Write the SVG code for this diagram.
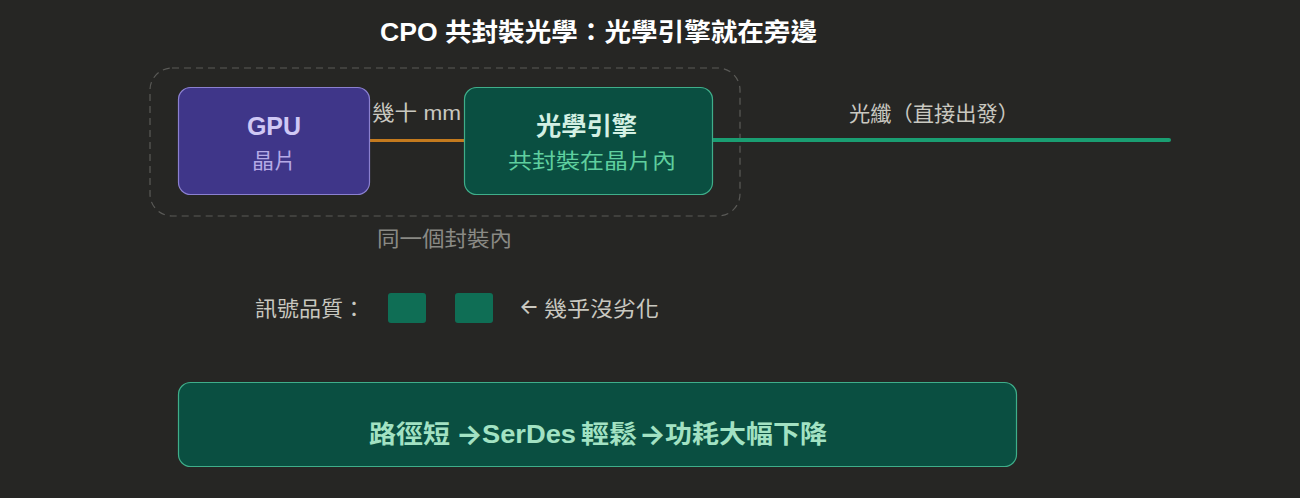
<svg xmlns="http://www.w3.org/2000/svg" width="1300" height="498" viewBox="0 0 1300 498">
<style>
text{font-family:"Liberation Sans","Noto Sans CJK TC","Noto Sans CJK SC",sans-serif;}
.lbl{fill:#c9c8c0;font-size:21px;}
.arr{font-family:Inter,"DejaVu Sans",sans-serif;}
.node-g{fill:#0a4f41;stroke:#3fae8a;stroke-width:1.2;}
</style>
<rect width="1300" height="498" fill="#262624"/>
<text x="380" y="41" font-size="25" font-weight="bold" fill="#ffffff" textLength="437" lengthAdjust="spacingAndGlyphs">CPO 共封裝光學：光學引擎就在旁邊</text>
<g id="package">
<rect x="150" y="68" width="590" height="148" rx="22" fill="none" stroke="#5a5a57" stroke-width="1.2" stroke-dasharray="7 5"/>
<text x="377" y="246" font-size="21" fill="#8a8a85" textLength="135" lengthAdjust="spacingAndGlyphs">同一個封裝內</text>
</g>
<g id="connectors">
<line x1="369" y1="140.5" x2="464" y2="140.5" stroke="#c47a1e" stroke-width="3"/>
<text x="372" y="120" class="lbl" textLength="89" lengthAdjust="spacingAndGlyphs">幾十 mm</text>
<line x1="712" y1="140" x2="1169" y2="140" stroke="#1a9e72" stroke-width="4" stroke-linecap="round"/>
<text x="849" y="121" class="lbl" textLength="170" lengthAdjust="spacingAndGlyphs">光纖（直接出發）</text>
</g>
<g id="gpu">
<rect x="178.5" y="87.5" width="191" height="107" rx="12" fill="#3f3689" stroke="#8b80d0" stroke-width="1.2"/>
<text x="274" y="135" text-anchor="middle" font-size="25" font-weight="bold" fill="#cfc8f5">GPU</text>
<text x="252" y="168" font-size="21" fill="#b5aae6" textLength="44" lengthAdjust="spacingAndGlyphs">晶片</text>
</g>
<g id="optical-engine">
<rect class="node-g" x="464.5" y="87.5" width="248" height="107" rx="12"/>
<text x="536" y="135" font-size="25" font-weight="bold" fill="#d3f0e3" textLength="101" lengthAdjust="spacingAndGlyphs">光學引擎</text>
<text x="508" y="168" font-size="21" fill="#5fcf9f" textLength="168" lengthAdjust="spacingAndGlyphs">共封裝在晶片內</text>
</g>
<g id="signal-quality">
<text x="255" y="316" class="lbl" textLength="110" lengthAdjust="spacingAndGlyphs">訊號品質：</text>
<rect x="388" y="293" width="38" height="30" rx="3" fill="#0f6e55"/>
<rect x="455" y="293" width="38" height="30" rx="3" fill="#0f6e55"/>
<text x="519" y="314" class="lbl arr" font-size="31" font-weight="500">←</text>
<text x="544" y="316" class="lbl" textLength="115" lengthAdjust="spacingAndGlyphs">幾乎沒劣化</text>
</g>
<g id="summary">
<rect class="node-g" x="178.5" y="382.5" width="838" height="84" rx="12"/>
<text x="369" y="443" font-size="25" font-weight="bold" fill="#a2e2c3"><tspan textLength="81" lengthAdjust="spacingAndGlyphs">路徑短</tspan><tspan class="arr" x="456" y="444" font-size="28">→</tspan><tspan x="482" y="443" textLength="94" lengthAdjust="spacingAndGlyphs">SerDes</tspan><tspan x="581" textLength="56" lengthAdjust="spacingAndGlyphs">輕鬆</tspan><tspan class="arr" x="639" y="444" font-size="28">→</tspan><tspan x="665" y="443" textLength="162" lengthAdjust="spacingAndGlyphs">功耗大幅下降</tspan></text>
</g>
</svg>
